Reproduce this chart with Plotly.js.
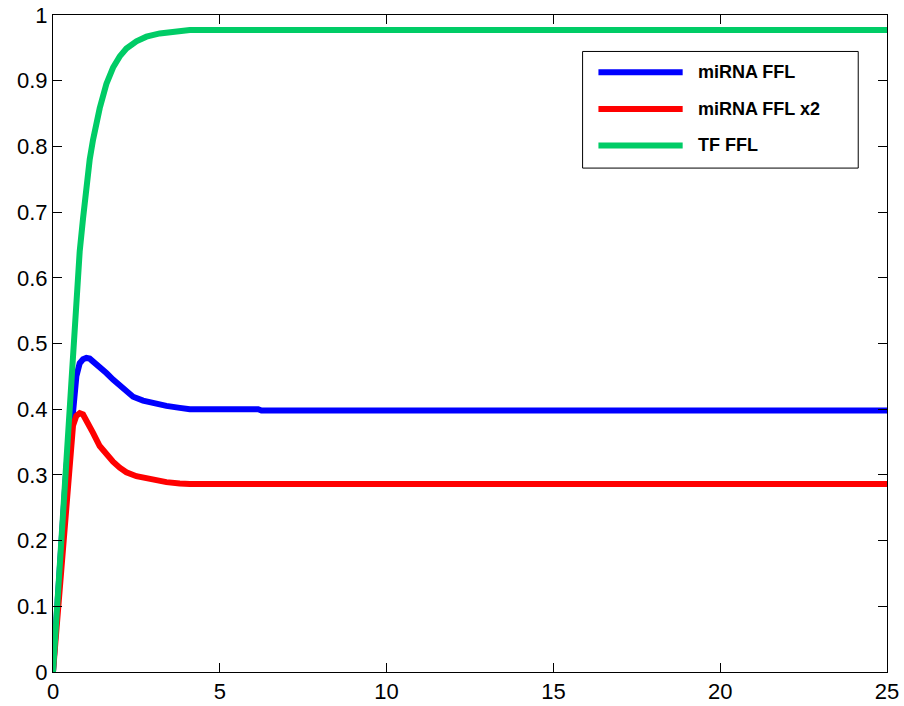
<!DOCTYPE html>
<html>
<head>
<meta charset="utf-8">
<script src="https://cdn.plot.ly/plotly-3.0.1.min.js"></script>
<style>
html,body{margin:0;padding:0;background:#fff;}
#chart{width:904px;height:706px;}
</style>
</head>
<body>
<div id="chart"></div>
<script>
// Series names
const seriesNames = ["miRNA FFL", "miRNA FFL x2", "TF FFL"];
const seriesColors = ["#0000ff", "#ff0000", "#00cc66"];

// miRNA FFL (blue)
const blueX = [0, 0.1, 0.2, 0.3, 0.4, 0.5, 0.6, 0.7, 0.8, 0.9, 1.0, 1.1, 1.2, 1.4, 1.6, 1.8, 2.0, 2.2, 2.4, 2.7, 3.0, 3.4, 3.8, 4.1, 6.15, 6.25, 25];
const blueY = [0, 0.08, 0.16, 0.24, 0.31, 0.36, 0.395, 0.45, 0.47, 0.476, 0.478, 0.477, 0.473, 0.464, 0.455, 0.445, 0.436, 0.427, 0.419, 0.413, 0.409, 0.405, 0.402, 0.400, 0.400, 0.398, 0.398];

// miRNA FFL x2 (red)
const redX = [0, 0.1, 0.2, 0.3, 0.4, 0.5, 0.6, 0.7, 0.8, 0.9, 1.0, 1.1, 1.2, 1.4, 1.6, 1.8, 2.0, 2.2, 2.5, 3.0, 3.4, 3.8, 4.1, 25];
const redY = [0, 0.065, 0.13, 0.19, 0.25, 0.325, 0.375, 0.39, 0.394, 0.392, 0.384, 0.374, 0.364, 0.344, 0.331, 0.320, 0.311, 0.304, 0.298, 0.292, 0.289, 0.287, 0.286, 0.286];

// TF FFL (green)
const greenX = [0, 0.2, 0.4, 0.5, 0.6, 0.7, 0.8, 0.9, 1.0, 1.1, 1.2, 1.3, 1.4, 1.6, 1.8, 2.0, 2.2, 2.5, 2.8, 3.2, 3.6, 4.1, 25];
const greenY = [0, 0.16, 0.32, 0.41, 0.50, 0.58, 0.64, 0.69, 0.74, 0.78, 0.81, 0.835, 0.858, 0.895, 0.920, 0.937, 0.949, 0.960, 0.967, 0.972, 0.975, 0.977, 0.977];

// Axis ticks
const xTicks = [0, 5, 10, 15, 20, 25];
const yTicks = [0, 0.1, 0.2, 0.3, 0.4, 0.5, 0.6, 0.7, 0.8, 0.9, 1];
const yTickText = ["0", "0.1", "0.2", "0.3", "0.4", "0.5", "0.6", "0.7", "0.8", "0.9", "1"];

const xs = [blueX, redX, greenX];
const ys = [blueY, redY, greenY];

const traces = seriesNames.map((name, i) => ({
  x: xs[i], y: ys[i], name: name, type: "scatter", mode: "lines",
  line: {color: seriesColors[i], width: 6},
  showlegend: false, hoverinfo: "skip"
}));

// custom MATLAB-style legend (paper coords)
const legX0 = 0.635, legX1 = 0.9655, legYTop = 0.9445, legYBot = 0.767;
const rowY = [0.913, 0.857, 0.8015];
const shapes = [{
  type: "rect", xref: "paper", yref: "paper",
  x0: legX0, x1: legX1, y0: legYBot, y1: legYTop,
  line: {color: "#000", width: 1}, fillcolor: "#fff", layer: "above"
}];
const annotations = [];
seriesNames.forEach((name, i) => {
  shapes.push({
    type: "line", xref: "paper", yref: "paper",
    x0: 0.654, x1: 0.755, y0: rowY[i], y1: rowY[i],
    line: {color: seriesColors[i], width: 6}, layer: "above"
  });
  annotations.push({
    xref: "paper", yref: "paper", x: 0.7705, y: rowY[i],
    xanchor: "left", yanchor: "middle", showarrow: false,
    text: "<b>" + name + "</b>",
    font: {family: "Liberation Sans, Arial, sans-serif", size: 18, color: "#000"}
  });
});

const axisCommon = {
  showline: true, linecolor: "#000", linewidth: 1, mirror: "allticks",
  ticks: "inside", ticklen: 9, tickcolor: "#000", tickwidth: 1,
  showgrid: false, zeroline: false, fixedrange: true,
  tickfont: {family: "Liberation Sans, Arial, sans-serif", size: 22, color: "#000"}
};

const layout = {
  width: 904, height: 706,
  margin: {l: 53, r: 17, t: 15, b: 34, pad: 0},
  paper_bgcolor: "#fff", plot_bgcolor: "#fff",
  showlegend: false,
  xaxis: Object.assign({}, axisCommon, {range: [0, 25], tickvals: xTicks, ticktext: xTicks.map(String)}),
  yaxis: Object.assign({}, axisCommon, {range: [0, 1], tickvals: yTicks, ticktext: yTickText}),
  shapes: shapes,
  annotations: annotations
};

Plotly.newPlot("chart", traces, layout, {displayModeBar: false, staticPlot: true});
</script>
</body>
</html>
